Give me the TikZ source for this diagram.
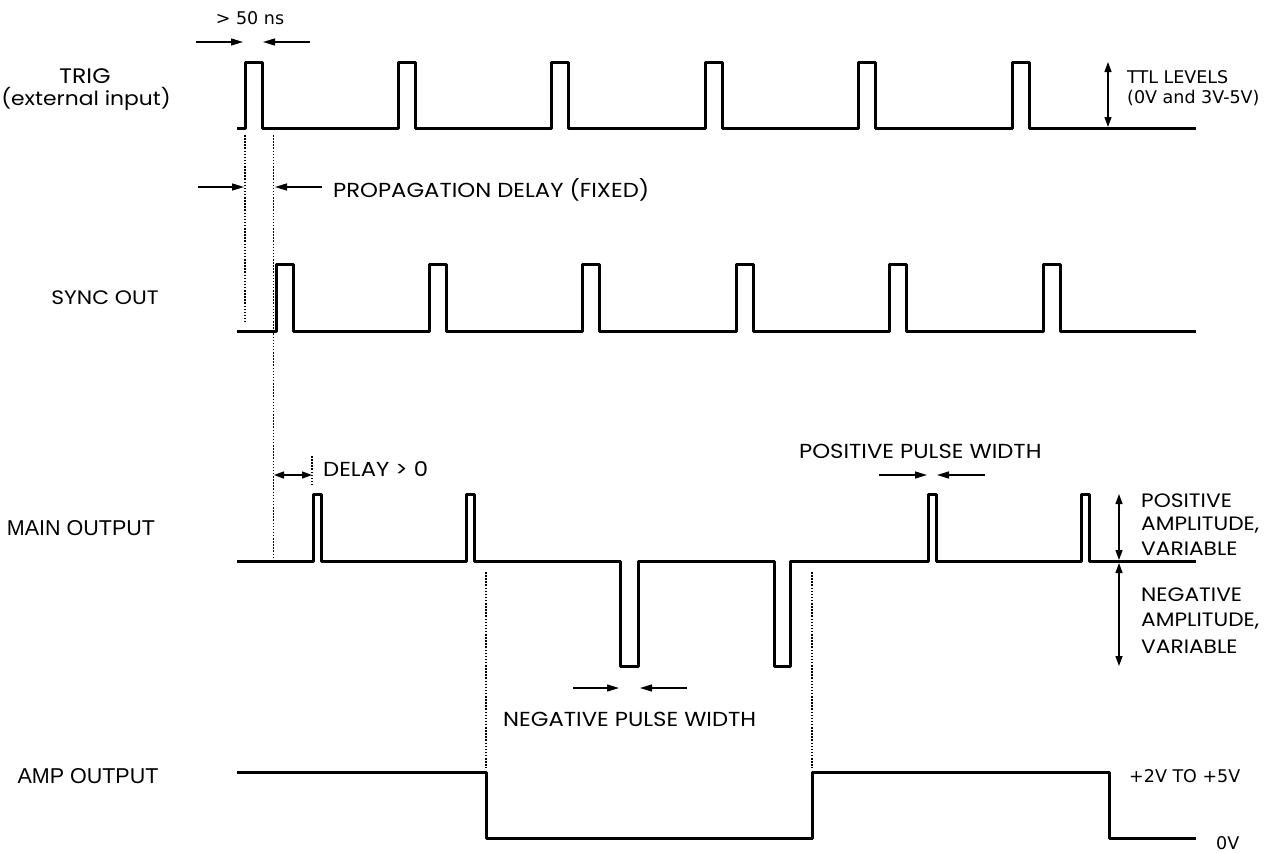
\documentclass[tikz,border=0pt]{standalone}
\usepackage{fontspec}
\setmainfont{DejaVu Sans}
\newfontfamily\pop[FakeStretch=1.12]{Poppins}
\newfontfamily\lib{Liberation Sans}
\usetikzlibrary{arrows.meta}
\begin{document}
\begin{tikzpicture}[x=1pt,y=-1pt,
  wave/.style={line width=3pt,line join=round},
  dim/.style={line width=1.3pt,-{Triangle[length=12pt,width=7pt]}},
  ddim/.style={line width=1.3pt,{Triangle[length=10pt,width=7pt]}-{Triangle[length=10pt,width=7pt]}},
  guide/.style={line width=1.5pt,dash pattern=on 1.5pt off 1.6pt},
  vtxt/.style={inner sep=0pt,anchor=west,font=\fontsize{17.5}{21}\selectfont},
  ptxt/.style={inner sep=0pt,anchor=west,font=\pop\fontsize{20.3}{24}\selectfont},
  atxt/.style={inner sep=0pt,anchor=west,font=\pop\fontsize{19.4}{24}\selectfont},
  side/.style={inner sep=0pt,font=\pop\fontsize{19.5}{23}\selectfont},
  aside/.style={inner sep=0pt,font=\lib\fontsize{21.5}{25}\selectfont}]
\useasboundingbox (0,0) rectangle (1282,852);
\fill[white] (0,0) rectangle (1282,852);

% waveforms
\draw[wave] (237,128) \foreach \i in {0,...,5}{ -- ({245+153.4*\i},128) -- ({245+153.4*\i},62) -- ({262+153.4*\i},62) -- ({262+153.4*\i},128) } -- (1196,128);
\draw[wave] (237,331) \foreach \i in {0,...,5}{ -- ({276+153.4*\i},331) -- ({276+153.4*\i},264) -- ({293+153.4*\i},264) -- ({293+153.4*\i},331) } -- (1196,331);
\draw[wave] (237,561.5)
  -- (313.5,561.5) -- (313.5,494) -- (321.5,494) -- (321.5,561.5)
  -- (466.5,561.5) -- (466.5,494) -- (474.5,494) -- (474.5,561.5)
  -- (620.5,561.5) -- (620.5,666) -- (638.5,666) -- (638.5,561.5)
  -- (774.5,561.5) -- (774.5,666) -- (790.5,666) -- (790.5,561.5)
  -- (928.5,561.5) -- (928.5,494) -- (936,494) -- (936,561.5)
  -- (1081.5,561.5) -- (1081.5,494) -- (1089,494) -- (1089,561.5)
  -- (1196,561.5);
\draw[wave] (237,772.5) -- (486,772.5) -- (486,838.5) -- (812,838.5) -- (812,772.5) -- (1109,772.5) -- (1109,838.5) -- (1196,838.5);

% guides
\coordinate (g1a) at (245,135); \coordinate (g1b) at (245,322);
\coordinate (g2a) at (273.5,135); \coordinate (g2b) at (273.5,558);
\coordinate (g3a) at (312,456); \coordinate (g3b) at (312,484);
\coordinate (g4a) at (486,572); \coordinate (g4b) at (486,768);
\coordinate (g5a) at (812,572); \coordinate (g5b) at (812,768);
\foreach \g in {1,...,5}{\draw[guide] (g\g a) -- (g\g b);}

% > 50 ns
\node[inner sep=0pt,font=\fontsize{17.5}{21}\selectfont] (t50) at (250,18) {> 50 ns};
\coordinate (a1s) at (196,42); \coordinate (a1e) at (243,42);
\coordinate (a2s) at (310,42); \coordinate (a2e) at (263,42);
\draw[dim] (a1s) -- (a1e);
\draw[dim] (a2s) -- (a2e);

% TTL levels
\coordinate (ttlT) at (1108,62); \coordinate (ttlB) at (1108,127);
\draw[ddim] (ttlT) -- (ttlB);
\node[vtxt] (ttl1) at (1127,77) {TTL LEVELS};
\node[vtxt] (ttl2) at (1127,98) {(0V and 3V-5V)};

% propagation delay
\coordinate (p1s) at (198,187); \coordinate (p1e) at (244,187);
\coordinate (p2s) at (322,187); \coordinate (p2e) at (275,187);
\draw[dim] (p1s) -- (p1e);
\draw[dim] (p2s) -- (p2e);
\node[ptxt] (prop) at (333,190) {PROPAGATION DELAY (FIXED)};

% delay > 0
\coordinate (d1) at (274,475); \coordinate (d2) at (312,475);
\draw[ddim] (d1) -- (d2);
\node[ptxt] (dly) at (323,469) {DELAY > 0};

% positive pulse width
\node[ptxt] (ppw) at (799,451) {POSITIVE PULSE WIDTH};
\coordinate (pp1s) at (879,475); \coordinate (pp1e) at (927,475);
\coordinate (pp2s) at (985,475); \coordinate (pp2e) at (937,475);
\draw[dim] (pp1s) -- (pp1e);
\draw[dim] (pp2s) -- (pp2e);

% negative pulse width
\coordinate (np1s) at (573,688); \coordinate (np1e) at (619,688);
\coordinate (np2s) at (687,688); \coordinate (np2e) at (640,688);
\draw[dim] (np1s) -- (np1e);
\draw[dim] (np2s) -- (np2e);
\node[ptxt] (npw) at (503,719) {NEGATIVE PULSE WIDTH};

% amplitudes
\coordinate (amT) at (1119,494); \coordinate (amM) at (1119,560);
\coordinate (amM2) at (1119,563); \coordinate (amB) at (1119,666);
\draw[ddim] (amT) -- (amM);
\draw[ddim] (amM2) -- (amB);
\node[atxt] (pa1) at (1141,501) {POSITIVE};
\node[atxt] (pa2) at (1141,525) {AMPLITUDE,};
\node[atxt] (pa3) at (1141,549) {VARIABLE};
\node[atxt] (na1) at (1141,595) {NEGATIVE};
\node[atxt] (na2) at (1141,621) {AMPLITUDE,};
\node[atxt] (na3) at (1141,647) {VARIABLE};

% amp levels
\node[vtxt] (hi) at (1129,776) {+2V TO +5V};
\node[vtxt] (lo) at (1216,843) {0V};

% side labels
\node[side,font=\pop\fontsize{21}{25}\selectfont] (trig) at (85,76) {TRIG};
\node[side] (ext) at (86,99) {(external input)};
\node[side] (sync) at (105,298) {SYNC OUT};
\node[aside] (main) at (81,528) {MAIN OUTPUT};
\node[aside] (amp) at (88,776) {AMP OUTPUT};
\end{tikzpicture}
\end{document}
